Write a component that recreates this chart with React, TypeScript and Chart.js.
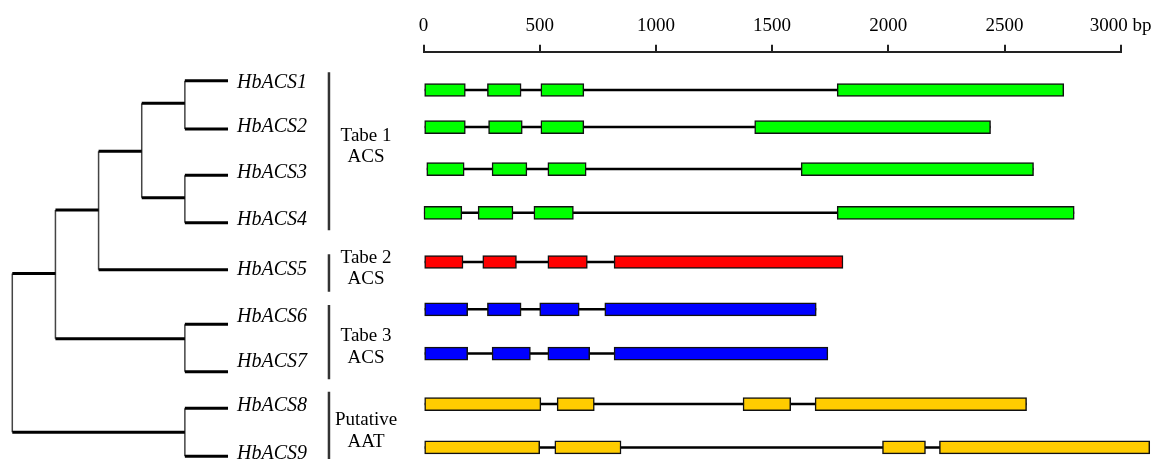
import React, { useEffect, useRef } from 'react';
import { Chart, registerables } from 'chart.js';

Chart.register(...registerables);

// ---------- data ----------
const geneNames = ['HbACS1', 'HbACS2', 'HbACS3', 'HbACS4', 'HbACS5', 'HbACS6', 'HbACS7', 'HbACS8', 'HbACS9'];

// tree: leaf rows, label rows, internal nodes (depth, row, children)
const treeLeafRows = [1, 2.03, 3.01, 4.02, 5.02, 6.18, 7.19, 7.97, 8.99];
const nameRows = [1.04, 1.98, 2.96, 3.96, 5.02, 6.03, 6.98, 7.91, 8.93];
const leafDepth = 5;
const nodeIds = ['n12', 'n34', 'n1234', 'n12345', 'n67', 'n1to7', 'n89', 'root'];
const nodeDepths = [4, 4, 3, 2, 4, 1, 4, 0];
const nodeRows = [1.48, 3.49, 2.5, 3.75, 6.49, 5.1, 8.48, 6.79];
const nodeChildren = [
  ['L0', 'L1'],
  ['L2', 'L3'],
  ['n12', 'n34'],
  ['n1234', 'L4'],
  ['L5', 'L6'],
  ['n12345', 'n67'],
  ['L7', 'L8'],
  ['n1to7', 'n89'],
];

// groups
const groupTitles = [['Tabe 1', 'ACS'], ['Tabe 2', 'ACS'], ['Tabe 3', 'ACS'], ['Putative', 'AAT']];
const groupLabelRows = [2.4, 5.0, 6.67, 8.45];
const bracketStarts = [0.82, 4.69, 5.77, 7.62];
const bracketEnds = [4.18, 5.49, 7.35, 9.2];
const geneGroup = [0, 0, 0, 0, 1, 2, 2, 3, 3];
const groupColors = ['#00FF00', '#FF0000', '#0000FF', '#FFCC00'];

// gene structure (bp)
const geneRows = [1, 1.83, 2.77, 3.75, 4.85, 5.91, 6.9, 8.03, 9];
const hbacs1Exons = [[5, 180], [275, 420], [505, 690], [1780, 2755]];
const hbacs2Exons = [[5, 180], [280, 425], [505, 690], [1425, 2440]];
const hbacs3Exons = [[14, 175], [295, 445], [535, 700], [1625, 2625]];
const hbacs4Exons = [[2, 165], [235, 385], [475, 645], [1780, 2800]];
const hbacs5Exons = [[5, 170], [255, 400], [535, 705], [820, 1805]];
const hbacs6Exons = [[5, 190], [275, 420], [500, 670], [780, 1690]];
const hbacs7Exons = [[5, 190], [295, 460], [535, 715], [820, 1740]];
const hbacs8Exons = [[5, 505], [575, 735], [1375, 1580], [1685, 2595]];
const hbacs9Exons = [[5, 500], [565, 850], [1975, 2160], [2220, 3125]];
const geneExons = [hbacs1Exons, hbacs2Exons, hbacs3Exons, hbacs4Exons, hbacs5Exons, hbacs6Exons, hbacs7Exons, hbacs8Exons, hbacs9Exons];

const axisTicks = [0, 500, 1000, 1500, 2000, 2500, 3000];
const tickLabels = ['0', '500', '1000', '1500', '2000', '2500', '3000 bp'];

// ---------- layout constants ----------
const FONT = '"Liberation Serif", "DejaVu Serif", serif';
const nameX = 5.21;
const groupLabelX = 8.2;
const bracketX = 7.34;

function buildTree() {
  const pos = (id: string) => {
    if (id[0] === 'L') {
      return { d: leafDepth, r: treeLeafRows[Number(id.slice(1))] };
    }
    const k = nodeIds.indexOf(id);
    return { d: nodeDepths[k], r: nodeRows[k] };
  };
  const horiz: any[] = [];
  const vert: any[] = [];
  nodeIds.forEach((id, i) => {
    const d = nodeDepths[i];
    const kids = nodeChildren[i].map(pos);
    const rs = kids.map((k) => k.r);
    vert.push({ x: d, y: Math.min(...rs) }, { x: d, y: Math.max(...rs) }, { x: null, y: null });
    kids.forEach((k) => horiz.push({ x: d, y: k.r }, { x: k.d, y: k.r }, { x: null, y: null }));
  });
  return { horiz, vert };
}

const treeTextPlugin = {
  id: 'treeText',
  afterDatasetsDraw(chart: any) {
    const { ctx } = chart;
    const x = chart.scales.x;
    const y = chart.scales.y;
    ctx.save();
    ctx.fillStyle = '#000';
    ctx.textBaseline = 'middle';
    ctx.textAlign = 'left';
    ctx.font = `italic 20px ${FONT}`;
    geneNames.forEach((n, i) => {
      ctx.fillText(n, x.getPixelForValue(nameX), y.getPixelForValue(nameRows[i]));
    });
    ctx.font = `19px ${FONT}`;
    ctx.textAlign = 'center';
    groupTitles.forEach((lines, i) => {
      const cy = y.getPixelForValue(groupLabelRows[i]);
      lines.forEach((t, j) => {
        ctx.fillText(t, x.getPixelForValue(groupLabelX), cy + (j - (lines.length - 1) / 2) * 21.5);
      });
    });
    ctx.restore();
  },
};

export default function App() {
  const treeRef = useRef<HTMLCanvasElement>(null);
  const geneRef = useRef<HTMLCanvasElement>(null);

  useEffect(() => {
    const { horiz, vert } = buildTree();
    const brackets: any[] = [];
    bracketStarts.forEach((s, i) => {
      brackets.push({ x: bracketX, y: s }, { x: bracketX, y: bracketEnds[i] }, { x: null, y: null });
    });

    const treeChart = new Chart(treeRef.current!, {
      type: 'scatter',
      data: {
        datasets: [
          { data: horiz, showLine: true, borderColor: '#000', borderWidth: 3, pointRadius: 0, spanGaps: false, borderCapStyle: 'butt' } as any,
          { data: vert, showLine: true, borderColor: '#444', borderWidth: 1.5, pointRadius: 0, spanGaps: false } as any,
          { data: brackets, showLine: true, borderColor: '#333', borderWidth: 2.5, pointRadius: 0, spanGaps: false } as any,
        ],
      },
      options: {
        responsive: false,
        animation: false,
        layout: { padding: 0 },
        plugins: { legend: { display: false }, tooltip: { enabled: false } },
        scales: {
          x: { type: 'linear', display: false, min: -0.285, max: 9.45 },
          y: { type: 'linear', display: false, reverse: true, min: -0.717, max: 9.049 },
        },
      },
      plugins: [treeTextPlugin],
    });

    const exonData = geneExons.flatMap((ex, i) => ex.map(([s, e]) => ({ x: [s, e], y: geneRows[i] })));
    const exonColors = geneExons.flatMap((ex, i) => ex.map(() => groupColors[geneGroup[i]]));
    const intronData = geneExons.flatMap((ex, i) => [
      { x: ex[0][0], y: geneRows[i] },
      { x: ex[ex.length - 1][1], y: geneRows[i] },
      { x: null, y: null },
    ]);

    const geneChart = new Chart(geneRef.current!, {
      type: 'bar',
      data: {
        datasets: [
          {
            type: 'bar',
            indexAxis: 'y',
            data: exonData,
            backgroundColor: exonColors,
            borderColor: '#111',
            borderWidth: 1.5,
            borderSkipped: false,
            barThickness: 13,
            grouped: false,
            clip: false,
            order: 0,
          } as any,
          {
            type: 'line',
            data: intronData,
            borderColor: '#000',
            borderWidth: 2.5,
            pointRadius: 0,
            spanGaps: false,
            clip: false,
            order: 1,
          } as any,
        ],
      },
      options: {
        responsive: false,
        animation: false,
        layout: { padding: { left: 13.5, right: 49.3, top: 8, bottom: 0 } },
        plugins: { legend: { display: false }, tooltip: { enabled: false } },
        scales: {
          x: {
            type: 'linear',
            position: 'top',
            min: 0,
            max: 3000,
            offset: false,
            afterBuildTicks: (s: any) => {
              s.ticks = axisTicks.map((v) => ({ value: v }));
            },
            ticks: {
              callback: (v: any) => tickLabels[axisTicks.indexOf(Number(v))],
              font: { size: 19, family: FONT },
              color: '#000',
              padding: 7,
              maxRotation: 0,
              autoSkip: false,
            },
            grid: { display: true, drawOnChartArea: false, drawTicks: true, tickLength: 7, color: '#222', lineWidth: 2, offset: false },
            border: { display: true, color: '#222', width: 2 },
          },
          y: { type: 'linear', display: false, reverse: true, min: 0.145, max: 9.259, offset: false, grid: { offset: false } },
        },
      } as any,
    });

    return () => {
      treeChart.destroy();
      geneChart.destroy();
    };
  }, []);

  return (
    <div style={{ position: 'fixed', left: 0, top: 0, width: 1154, height: 459, background: '#fff', overflow: 'hidden' }}>
      <canvas ref={treeRef} width={420} height={459} style={{ position: 'absolute', left: 0, top: 0, width: 420, height: 459 }} />
      <canvas ref={geneRef} width={760} height={459} style={{ position: 'absolute', left: 410, top: 0, width: 760, height: 459 }} />
    </div>
  );
}
